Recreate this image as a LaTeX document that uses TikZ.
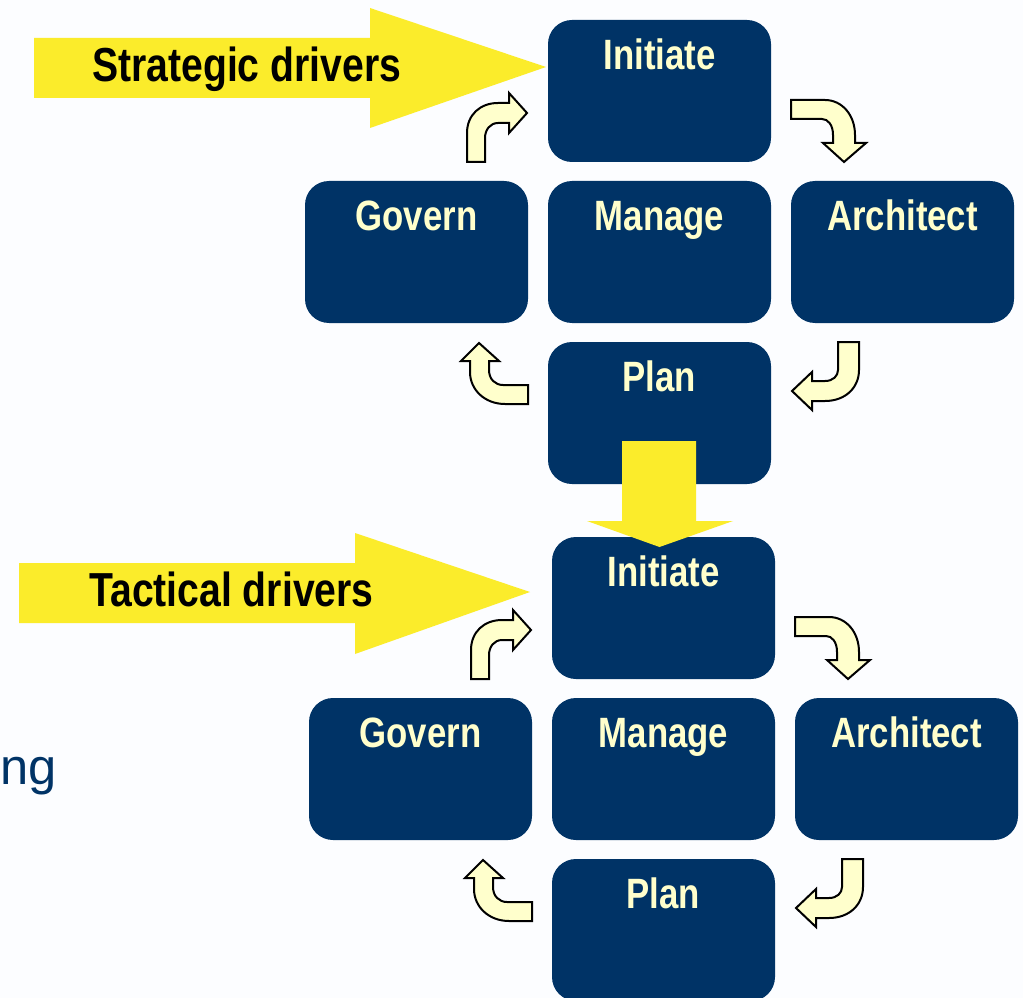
\documentclass[tikz,border=0pt]{standalone}
\usepackage{fontspec}
\setmainfont{Liberation Sans}
\newfontfamily\narrowbold[FakeStretch=0.82]{Liberation Sans Bold}
\definecolor{navy}{HTML}{003366}
\definecolor{cream}{HTML}{FFFFCC}
\definecolor{sun}{HTML}{FBEC2B}
\definecolor{paper}{HTML}{FCFDFF}
\tikzset{
  x=0.75pt,y=-0.75pt,
  boxshape/.style={fill=navy,draw=none,rounded corners=18pt,minimum width=167.25pt,minimum height=106.5pt,inner sep=0pt,outer sep=0pt},
  boxtext/.style={text=cream,font=\narrowbold\fontsize{31.8}{34}\selectfont,anchor=base,inner sep=0pt},
  drivertext/.style={text=black,font=\narrowbold\fontsize{35.8}{38}\selectfont,anchor=base west,inner sep=0pt},
  bentarrow/.style={fill=cream,draw=black,line width=1.5pt,line join=miter},
  bigarrow/.style={fill=sun,draw=none},
}
\newcommand{\cyclebox}[4]{% name, centre x, centre y, text
  \node[boxshape] (#1) at (#2,#3) {};
  \node[boxtext] (#1t) at (#2,#3-21.7) {#4};
}
\newcommand{\cyclegroup}[1]{%
  \cyclebox{#1i}{659.5}{91}{Initiate}
  \cyclebox{#1m}{659.5}{252}{Manage}
  \cyclebox{#1g}{416.5}{252}{Govern}
  \cyclebox{#1a}{902.5}{252}{Architect}
  \cyclebox{#1p}{659.5}{413}{Plan}
  \draw[bentarrow] (467,162) -- (467,133) .. controls (467,115) and (480,103) .. (498,103) -- (509,103) -- (509,93) -- (527,113) -- (509,133) -- (509,123) -- (498,123) .. controls (490,123) and (485,130) .. (485,138) -- (485,162) -- cycle;
  \draw[bentarrow] (791,100) -- (825,100) .. controls (842,100) and (855,115) .. (855,135) -- (855,143) -- (866,143) -- (844,162) -- (823,143) -- (833,143) -- (833,135) .. controls (833,125) and (828,119) .. (822,119) -- (791,119) -- cycle;
  \draw[bentarrow] (838,342) -- (859,342) -- (859,370) .. controls (859,388) and (845,401) .. (825,401) -- (812,401) -- (812,410) -- (792,391) -- (812,372) -- (812,381) -- (825,381) .. controls (833,381) and (838,376) .. (838,370) -- cycle;
  \draw[bentarrow] (479,343) -- (499,361) -- (489,361) -- (489,370) .. controls (489,379) and (495,385) .. (503,385) -- (528,385) -- (528,404) -- (505,404) .. controls (485,404) and (470,390) .. (470,372) -- (470,361) -- (461,361) -- cycle;
}
\begin{document}
\begin{tikzpicture}
\useasboundingbox (0,0) rectangle (1023,998);
\begin{scope}
\clip (0,0) rectangle (1023,998);
\fill[paper] (0,0) rectangle (1023,998);
\cyclegroup{s}
\begin{scope}[shift={(4,517)}]
\cyclegroup{t}
\end{scope}
\fill[bigarrow] (34,38) -- (370,38) -- (370,8) -- (546,67) -- (370,128) -- (370,98) -- (34,98) -- cycle;
\fill[bigarrow] (19,563) -- (355,563) -- (355,533) -- (530,592) -- (355,654) -- (355,623) -- (19,623) -- cycle;
\fill[bigarrow] (622,441) -- (696,441) -- (696,521) -- (733,521) -- (659.5,547) -- (587,521) -- (622,521) -- cycle;
\node[drivertext] (strategic) at (92,82) {Strategic drivers};
\node[drivertext] (tactical) at (89,606) {Tactical drivers};
\node[anchor=base west,inner sep=0pt,text=navy,font=\fontsize{38}{42}\selectfont] (frag) at (0,784) {ng};
\end{scope}
\end{tikzpicture}
\end{document}
